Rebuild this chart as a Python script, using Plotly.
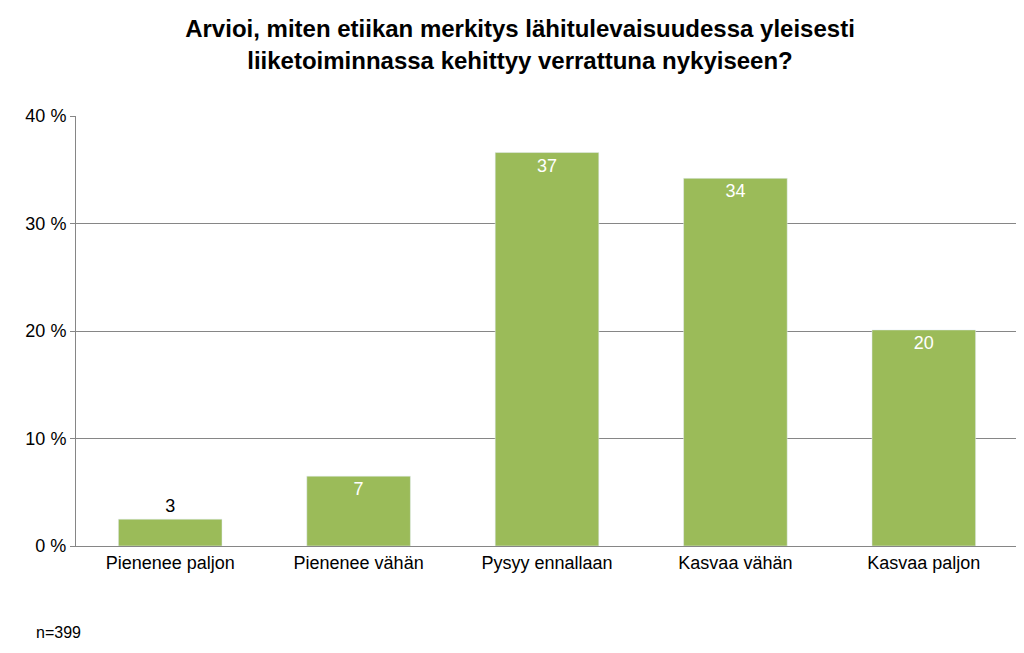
import plotly.graph_objects as go

categories = ["Pienenee paljon", "Pienenee vähän", "Pysyy ennallaan", "Kasvaa vähän", "Kasvaa paljon"]
values = [2.5, 6.5, 36.6, 34.2, 20.1]
labels = ["3", "7", "37", "34", "20"]
label_pos = ["outside", "inside", "inside", "inside", "inside"]
label_colors = ["black", "white", "white", "white", "white"]

fig = go.Figure(go.Bar(
    x=categories, y=values,
    text=labels, textposition=label_pos,
    insidetextanchor="end",
    textfont=dict(size=18, color=label_colors),
    marker=dict(color="#9bbb59"),
    cliponaxis=False,
))

fig.update_layout(
    width=1024, height=653,
    paper_bgcolor="white", plot_bgcolor="white",
    font=dict(family="Liberation Sans, Arial, sans-serif", size=18, color="black"),
    title=dict(
        text="<b>Arvioi, miten etiikan merkitys lähitulevaisuudessa yleisesti<br>liiketoiminnassa kehittyy verrattuna nykyiseen?</b>",
        x=0.5, xanchor="center", y=0.955, yanchor="top",
        font=dict(size=24),
    ),
    margin=dict(l=68, r=14, t=108, b=115),
    bargap=0.45,
    showlegend=False,
)
fig.update_yaxes(
    range=[0, 40], tickvals=[0, 10, 20, 30, 40],
    ticktext=["0 %", "10 %", "20 %", "30 %", "40 %"],
    showgrid=True, gridcolor="#868686", gridwidth=1,
    showline=True, linecolor="#868686", ticks="outside", ticklen=5, tickcolor="#868686",
    zeroline=False,
)
fig.update_xaxes(showline=True, linecolor="#868686", ticks="", tickfont=dict(size=18))
fig.add_annotation(text="n=399", xref="paper", yref="paper", x=-0.045, y=-0.2,
                   xanchor="left", yanchor="middle", showarrow=False, font=dict(size=16))

fig.write_html("out.html")
